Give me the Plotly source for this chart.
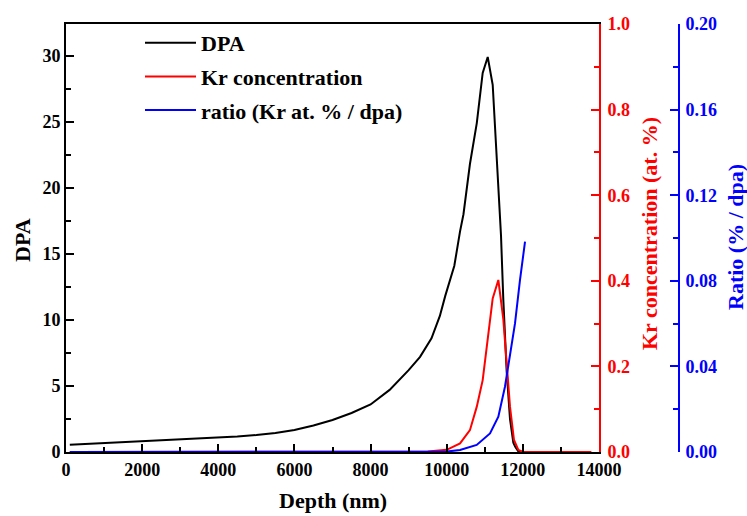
import plotly.graph_objects as go

# ---- data ----
dpa_depth = [100, 1000, 2000, 3000, 4000, 4500, 5000, 5500, 6000, 6500, 7000, 7500,
             8000, 8300, 8500, 9000, 9300, 9600, 9820, 9960, 10200, 10350, 10440,
             10610, 10790, 10945, 11077, 11208, 11295, 11365, 11426, 11487, 11575,
             11662, 11750, 11800, 11880, 12000]
dpa_values = [0.55, 0.67, 0.80, 0.92, 1.07, 1.17, 1.28, 1.43, 1.66, 2.0, 2.42, 2.95,
              3.6, 4.25, 4.7, 6.2, 7.2, 8.6, 10.3, 11.8, 14.1, 16.7, 18.0,
              21.8, 24.9, 28.7, 29.9, 27.8, 23.6, 19.8, 16.4, 11.5, 6.1,
              2.5, 0.7, 0.4, 0.05, 0.0]

kr_depth = [100, 9000, 9500, 10000, 10350, 10610, 10790, 10945, 11050, 11137, 11208,
            11356, 11487, 11575, 11662, 11767, 11881, 12000, 13800]
kr_values = [0.0, 0.0, 0.001, 0.005, 0.020, 0.051, 0.106, 0.168, 0.246, 0.30, 0.359,
             0.402, 0.31, 0.207, 0.106, 0.028, 0.005, 0.0, 0.0]

ratio_depth = [100, 9000, 10000, 10349, 10788, 11137, 11356, 11530, 11662, 11794,
               11925, 12057]
ratio_values = [0.0, 0.0, 0.0002, 0.0009, 0.0033, 0.0087, 0.0165, 0.0305, 0.0445,
                0.0601, 0.0804, 0.0983]

x_ticks = [0, 2000, 4000, 6000, 8000, 10000, 12000, 14000]
dpa_ticks = [0, 5, 10, 15, 20, 25, 30]
kr_ticks = [0.0, 0.2, 0.4, 0.6, 0.8, 1.0]
ratio_ticks = [0.00, 0.04, 0.08, 0.12, 0.16, 0.20]

W, H = 747, 516
FONT = "Liberation Serif"
RED = "#ff0000"
BLUE = "#0000ff"

x0, x1 = 66 / W, 599 / W
y0, y1 = 1 - 452 / H, 1 - 24 / H
xblue = 679 / W

fig = go.Figure()
fig.add_trace(go.Scatter(x=dpa_depth, y=dpa_values, mode="lines", name="DPA",
                         line=dict(color="black", width=2), legendgroup="a", yaxis="y"))
fig.add_trace(go.Scatter(x=kr_depth, y=kr_values, mode="lines", name="Kr concentration",
                         line=dict(color=RED, width=2), legendgroup="b", yaxis="y2"))
fig.add_trace(go.Scatter(x=ratio_depth, y=ratio_values, mode="lines",
                         name="ratio (Kr at. % / dpa)",
                         line=dict(color=BLUE, width=2), legendgroup="c", yaxis="y3"))

TS = 18
tickfont = dict(family=FONT, size=TS, weight="bold")

fig.update_layout(
    width=W, height=H,
    margin=dict(l=0, r=0, t=0, b=0, autoexpand=False),
    paper_bgcolor="white", plot_bgcolor="white",
    font=dict(family=FONT, color="black"),
    showlegend=True,
    legend=dict(x=140 / W, y=1 - 22 / H, xanchor="left", yanchor="top",
                bgcolor="rgba(0,0,0,0)", tracegroupgap=2, itemwidth=51,
                font=dict(family=FONT, size=22, weight="bold", color="black")),
    xaxis=dict(domain=[x0, x1], range=[0, 14000], tickvals=x_ticks, tickformat="d",
               automargin=False,
               showgrid=False, zeroline=False, showline=True, linecolor="black",
               linewidth=2, mirror=True, ticks="inside", ticklen=8, tickwidth=1.5,
               tickcolor="black", tickfont=tickfont,
               minor=dict(dtick=1000, ticks="inside", ticklen=5, tickwidth=1.5,
                          tickcolor="black")),
    yaxis=dict(domain=[y0, y1], range=[0, 32.4], tickvals=dpa_ticks, automargin=False,
               showgrid=False, zeroline=False, showline=True, linecolor="black",
               linewidth=2, ticks="inside", ticklen=8, tickwidth=1.5,
               tickcolor="black", tickfont=tickfont,
               minor=dict(dtick=2.5, ticks="inside", ticklen=5, tickwidth=1.5,
                          tickcolor="black")),
    yaxis2=dict(overlaying="y", side="right", anchor="x", range=[0, 1.0],
                tickvals=kr_ticks, tickformat=".1f", automargin=False,
                ticklabelstandoff=3,
                showgrid=False, zeroline=False, showline=True, linecolor=RED,
                linewidth=2, ticks="inside", ticklen=8, tickwidth=1.5, tickcolor=RED,
                tickfont=dict(family=FONT, size=TS, weight="bold", color=RED),
                minor=dict(dtick=0.1, ticks="inside", ticklen=5, tickwidth=1.5,
                           tickcolor=RED)),
    yaxis3=dict(overlaying="y", side="right", anchor="free", position=xblue,
                range=[0, 0.2], tickvals=ratio_ticks, tickformat=".2f",
                automargin=False, ticklabelstandoff=2,
                showgrid=False, zeroline=False, showline=True, linecolor=BLUE,
                linewidth=2, ticks="inside", ticklen=8, tickwidth=1.5, tickcolor=BLUE,
                tickfont=dict(family=FONT, size=TS, weight="bold", color=BLUE),
                minor=dict(dtick=0.02, ticks="inside", ticklen=5, tickwidth=1.5,
                           tickcolor=BLUE)),
)

title_font = dict(family=FONT, size=22, weight="bold")
fig.add_annotation(text="Depth (nm)", x=(x0 + x1) / 2, y=1 - 500 / H, xref="paper",
                   yref="paper", showarrow=False, xanchor="center", yanchor="middle",
                   font=dict(**title_font, color="black"))
fig.add_annotation(text="DPA", x=23 / W, y=1 - 240 / H, xref="paper", yref="paper",
                   showarrow=False, textangle=-90, xanchor="center", yanchor="middle",
                   font=dict(**title_font, color="black"))
fig.add_annotation(text="Kr concentration (at. %)", x=650 / W, y=1 - 234 / H,
                   xref="paper", yref="paper", showarrow=False, textangle=-90,
                   xanchor="center", yanchor="middle",
                   font=dict(**title_font, color=RED))
fig.add_annotation(text="Ratio (% / dpa)", x=736 / W, y=1 - 237 / H,
                   xref="paper", yref="paper", showarrow=False, textangle=-90,
                   xanchor="center", yanchor="middle",
                   font=dict(**title_font, color=BLUE))

fig.write_html(
    "out.html",
    config={"displayModeBar": False},
    post_script="document.body.style.margin='0px';document.body.style.overflow='hidden';",
)
